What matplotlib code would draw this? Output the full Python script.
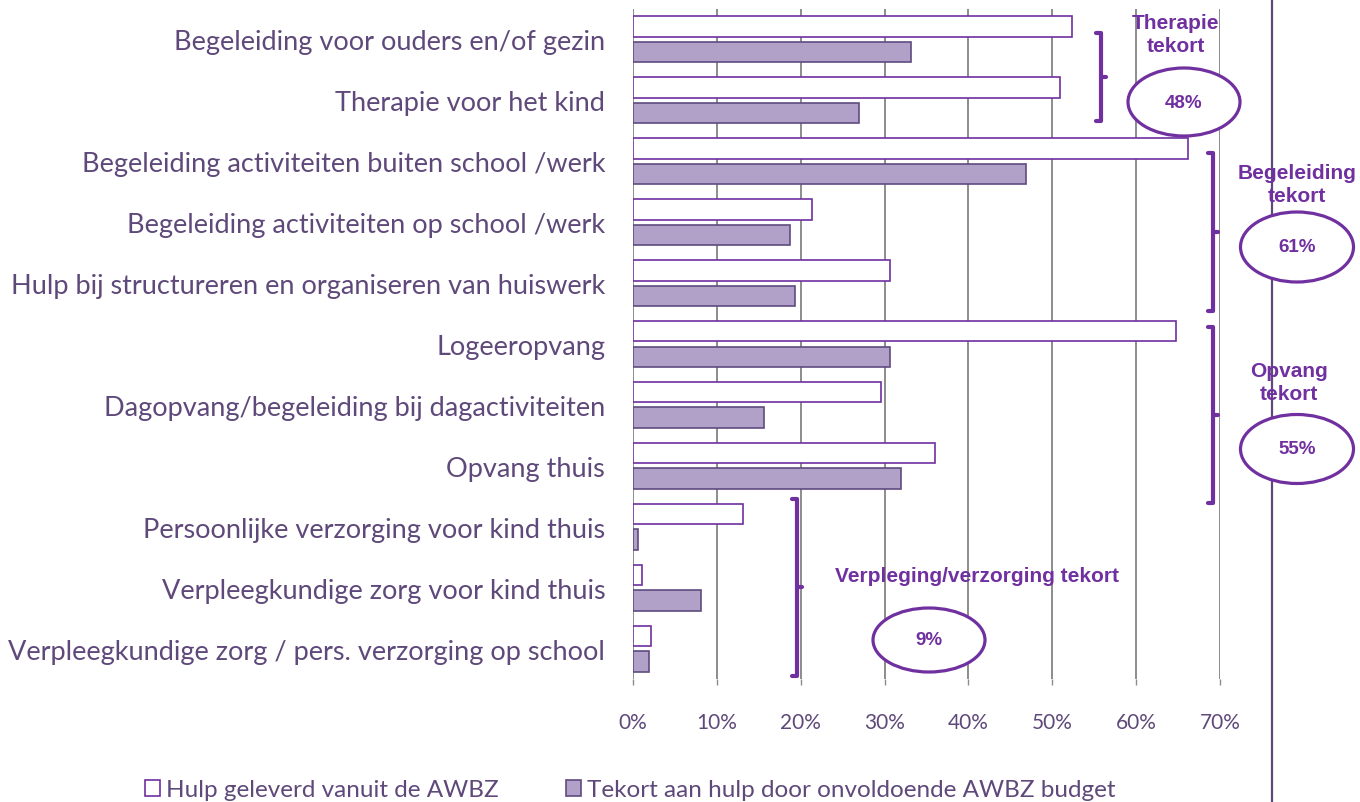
import matplotlib
matplotlib.use("Agg")
import matplotlib.pyplot as plt
from matplotlib.patches import Ellipse, Patch
from matplotlib.lines import Line2D
import numpy as np

categories = [
    "Begeleiding voor ouders en/of gezin",
    "Therapie voor het kind",
    "Begeleiding activiteiten buiten school /werk",
    "Begeleiding activiteiten op school /werk",
    "Hulp bij structureren en organiseren van huiswerk",
    "Logeeropvang",
    "Dagopvang/begeleiding bij dagactiviteiten",
    "Opvang thuis",
    "Persoonlijke verzorging voor kind thuis",
    "Verpleegkundige zorg voor kind thuis",
    "Verpleegkundige zorg / pers. verzorging op school",
]
geleverd = [52.3, 50.9, 66.2, 21.3, 30.6, 64.8, 29.6, 36.0, 13.1, 1.1, 2.2]
tekort = [33.1, 26.9, 46.9, 18.7, 19.3, 30.6, 15.6, 31.9, 0.6, 8.1, 1.9]
xticks = [0, 10, 20, 30, 40, 50, 60, 70]
series_names = ["Hulp geleverd vanuit de AWBZ",
                "Tekort aan hulp door onvoldoende AWBZ budget"]
group_titles = ["Therapie\ntekort", "Begeleiding\ntekort", "Opvang\ntekort",
                "Verpleging/verzorging tekort"]
group_values = ["48%", "61%", "55%", "9%"]

W, H = 1360, 803
TXT = "#5F497A"
PUR = "#7030A0"
FILL = "#B1A0C7"
GRID = "#8C8C8C"
LABEL_FONT = ["Lato", "DejaVu Sans"]
ANN_FONT = ["Liberation Sans", "DejaVu Sans"]

fig = plt.figure(figsize=(W / 100, H / 100), dpi=100)
ax = fig.add_axes([633 / W, 1 - 680 / H, (1220 - 633) / W, (680 - 10) / H])

y = np.arange(len(categories))
bh = 0.336
ax.barh(y - 0.21, geleverd, height=bh, color="white", edgecolor=PUR,
        linewidth=1.2, zorder=3)
ax.barh(y + 0.21, tekort, height=bh, color=FILL, edgecolor="#5F4B7F",
        linewidth=1.2, zorder=3)

ax.set_xlim(0, 70)
ax.set_ylim(len(categories) - 0.5, -0.5)
ax.set_xticks(xticks)
ax.set_xticklabels([f"{v}%" for v in xticks], family=LABEL_FONT, fontsize=15,
                   color=TXT)
ax.set_yticks(y)
ax.set_yticklabels(categories, family=LABEL_FONT, fontsize=19.5, color=TXT)
ax.tick_params(axis="y", length=0, pad=20)
ax.tick_params(axis="x", length=4, color=GRID, width=1, pad=20)
ax.xaxis.grid(True, color=GRID, linewidth=1.4, zorder=0)
ax.set_axisbelow(True)
for s in ax.spines.values():
    s.set_visible(False)


def P(px, py):
    return (px / W, 1 - py / H)


# right vertical line
fig.add_artist(Line2D([1272 / W, 1272 / W], [0, 1], color=TXT, lw=1.6,
                      transform=fig.transFigure, zorder=1))


def bracket(x, ytop, ybot, ynub):
    xs = [x - 5, x, x, x - 5]
    ys = [ytop, ytop, ybot, ybot]
    fig.add_artist(Line2D([v / W for v in xs], [1 - v / H for v in ys],
                          color=PUR, lw=3, solid_joinstyle="round",
                          solid_capstyle="round", transform=fig.transFigure,
                          zorder=4))
    fig.add_artist(Line2D([x / W, (x + 5) / W], [1 - ynub / H, 1 - ynub / H],
                          color=PUR, lw=3, solid_capstyle="round",
                          transform=fig.transFigure, zorder=4))


def oval(cx, cy, w, h, label):
    e = Ellipse(P(cx, cy), w / W, h / H, transform=fig.transFigure,
                facecolor="white", edgecolor=PUR, lw=2.3, zorder=5)
    fig.add_artist(e)
    fig.text(*P(cx, cy), label, ha="center", va="center", color=PUR,
             family=ANN_FONT, fontweight="bold", fontsize=13.5, zorder=6)


bracket(1101, 34, 122, 78)
bracket(1213, 154, 312, 233)
bracket(1213, 328, 504, 416)
bracket(797, 500, 677, 588)

kw = dict(ha="center", va="center", color=PUR, family=ANN_FONT,
          fontweight="bold", fontsize=15, linespacing=1.22, zorder=6)
fig.text(*P(1176, 35), group_titles[0], **kw)
fig.text(*P(1297, 185), group_titles[1], **kw)
fig.text(*P(1289, 383), group_titles[2], **kw)
fig.text(*P(977, 577), group_titles[3], **kw)

oval(1184, 103, 112, 68, group_values[0])
oval(1297, 248, 113, 70, group_values[1])
oval(1297, 450, 113, 69, group_values[2])
oval(929, 641, 112, 64, group_values[3])

handles = [Patch(facecolor="white", edgecolor=PUR, lw=1.2),
           Patch(facecolor=FILL, edgecolor="#5F4B7F", lw=1.2)]
leg = fig.legend(handles, series_names, loc="center left",
                 bbox_to_anchor=P(145, 791), ncol=2, frameon=False,
                 handlelength=0.6, handleheight=0.6, handletextpad=0.25,
                 columnspacing=2.8, borderpad=0, borderaxespad=0,
                 prop={"family": LABEL_FONT, "size": 17.5})
for t in leg.get_texts():
    t.set_color(TXT)

fig.savefig("out.png", dpi=100)
